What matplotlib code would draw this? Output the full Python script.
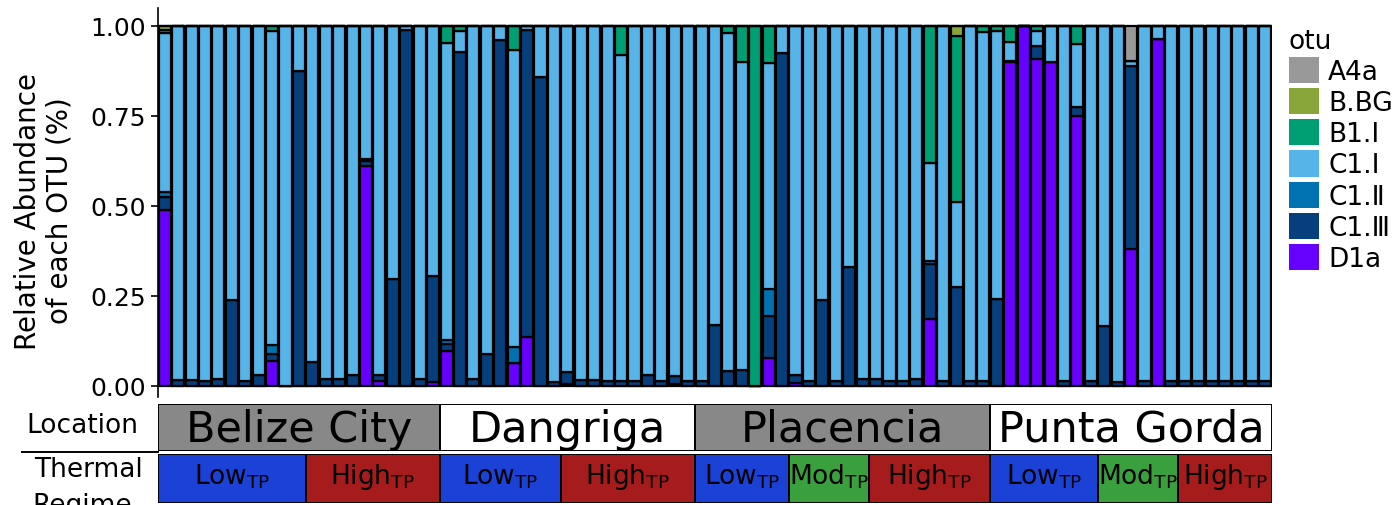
import numpy as np
import matplotlib
matplotlib.use("Agg")
import matplotlib.pyplot as plt
from matplotlib.patches import Patch
from matplotlib.lines import Line2D

plt.rcParams["font.family"] = ["DejaVu Sans"]
plt.rcParams["mathtext.default"] = "regular"

# relative abundance per sample (83 samples), one list per OTU
d1a = [0.49, 0, 0, 0, 0, 0, 0, 0, 0.07, 0, 0,
       0, 0, 0, 0, 0.61, 0.013, 0, 0, 0, 0.01,
       0.096, 0, 0, 0, 0, 0.064, 0.137, 0, 0,
       0.006, 0, 0, 0, 0, 0, 0, 0, 0.006, 0,
       0, 0, 0, 0, 0, 0.077, 0,
       0.007, 0, 0, 0, 0, 0,
       0, 0, 0, 0, 0.186, 0, 0, 0, 0,
       0, 0.9, 1.0, 0.908, 0.9, 0, 0.751, 0,
       0, 0, 0.38, 0, 0.964, 0,
       0, 0, 0, 0, 0, 0, 0]
c1_iii = [0.035, 0.018, 0.018, 0.015, 0.02, 0.24, 0.015, 0.03, 0.02, 0, 0.876,
          0.066, 0.02, 0.02, 0.03, 0.015, 0.018, 0.297, 0.99, 0.02, 0.296,
          0.021, 0.929, 0.02, 0.09, 0.96, 0, 0.852, 0.857, 0.01,
          0.034, 0.017, 0.017, 0.015, 0.015, 0.015, 0.03, 0.015, 0.023, 0.015,
          0.015, 0.17, 0.043, 0.045, 0, 0.117, 0.924,
          0.023, 0.015, 0.24, 0.015, 0.33, 0.02,
          0.02, 0.015, 0.015, 0.02, 0.153, 0.015, 0.274, 0.015, 0.015,
          0.242, 0.004, 0, 0.036, 0, 0.015, 0.023, 0.015,
          0.168, 0.01, 0.51, 0.015, 0, 0.015,
          0.015, 0.015, 0.015, 0.015, 0.015, 0.015, 0.015]
c1_ii = [0.015, 0, 0, 0, 0, 0, 0, 0, 0.025, 0, 0,
         0, 0, 0, 0, 0.005, 0, 0, 0, 0, 0,
         0.011, 0, 0, 0, 0, 0.043, 0, 0, 0,
         0, 0, 0, 0, 0, 0, 0, 0, 0, 0,
         0, 0, 0, 0, 0, 0.076, 0,
         0, 0, 0, 0, 0, 0,
         0, 0, 0, 0, 0.007, 0, 0, 0, 0,
         0, 0, 0, 0, 0, 0, 0, 0,
         0, 0, 0, 0, 0, 0,
         0, 0, 0, 0, 0, 0, 0]
c1_i = [0.44, 0.982, 0.982, 0.985, 0.98, 0.76, 0.985, 0.97, 0.87, 1.0, 0.124,
        0.934, 0.98, 0.98, 0.97, 0.37, 0.969, 0.703, 0.01, 0.98, 0.694,
        0.824, 0.056, 0.98, 0.91, 0.04, 0.826, 0.011, 0.143, 0.99,
        0.96, 0.983, 0.983, 0.985, 0.905, 0.985, 0.97, 0.985, 0.971, 0.985,
        0.985, 0.83, 0.937, 0.855, 0, 0.627, 0.076,
        0.97, 0.985, 0.76, 0.985, 0.67, 0.98,
        0.98, 0.985, 0.985, 0.98, 0.273, 0.985, 0.236, 0.985, 0.967,
        0.745, 0.051, 0, 0.041, 0.1, 0.985, 0.176, 0.985,
        0.832, 0.99, 0.014, 0.985, 0.036, 0.985,
        0.985, 0.985, 0.985, 0.985, 0.985, 0.985, 0.985]
b1_i = [0.01, 0, 0, 0, 0, 0, 0, 0, 0.015, 0, 0,
        0, 0, 0, 0, 0, 0, 0, 0, 0, 0,
        0.048, 0.015, 0, 0, 0, 0.067, 0, 0, 0,
        0, 0, 0, 0, 0.08, 0, 0, 0, 0, 0,
        0, 0, 0.02, 0.1, 1.0, 0.103, 0,
        0, 0, 0, 0, 0, 0,
        0, 0, 0, 0, 0.381, 0, 0.463, 0, 0.018,
        0.013, 0.045, 0, 0.015, 0, 0, 0.05, 0,
        0, 0, 0, 0, 0, 0,
        0, 0, 0, 0, 0, 0, 0]
b_bg = [0.01] + [0] * 58 + [0.027] + [0] * 23
a4a = [0] * 72 + [0.096] + [0] * 10

otu_names = ["A4a", "B.BG", "B1.Ⅰ", "C1.Ⅰ", "C1.Ⅱ", "C1.Ⅲ", "D1a"]
otu_colors = ["#999999", "#88A63A", "#009E73", "#56B4E9", "#0072B2", "#063F7C", "#6600FF"]

locations = ["Belize City", "Dangriga", "Placencia", "Punta Gorda"]
location_counts = [21, 19, 22, 21]
location_colors = ["#888888", "white", "#888888", "white"]

regimes = ["Low", "High", "Low", "High", "Low", "Mod", "High", "Low", "Mod", "High"]
regime_counts = [11, 10, 9, 10, 7, 6, 9, 8, 6, 7]
regime_colors = {"Low": "#1B41D6", "Mod": "#3A9F3D", "High": "#A61C1C"}

W, H = 1398, 506
fig = plt.figure(figsize=(W / 100, H / 100), dpi=100)

ax = fig.add_axes([158 / W, (H - 405) / H, 1114 / W, 396 / H])
n = len(d1a)
x = np.arange(n)
stack = [d1a, c1_iii, c1_ii, c1_i, b1_i, b_bg, a4a]
bottom = np.zeros(n)
for vals, col in zip(stack, otu_colors[::-1]):
    vals = np.array(vals)
    ax.bar(x, vals, bottom=bottom, width=0.9, color=col,
           edgecolor="black", linewidth=1.6)
    bottom += vals

ax.set_xlim(-0.5, n - 0.5)
ax.set_ylim(-0.05, 1.05)
ax.set_yticks([0, 0.25, 0.5, 0.75, 1.0])
ax.set_yticklabels(["0.00", "0.25", "0.50", "0.75", "1.00"])
ax.tick_params(axis="y", labelsize=18, length=5, width=1.2, colors="black")
ax.set_xticks([])
for s in ["top", "right", "bottom"]:
    ax.spines[s].set_visible(False)
ax.spines["left"].set_linewidth(1.2)
ax.spines["left"].set_bounds(-0.03, 1.05)

fig.text(44 / W, 1 - 211 / H, "Relative Abundance\nof each OTU (%)",
         rotation=90, ha="center", va="center", fontsize=20, linespacing=1.15)

handles = [Patch(facecolor=c, edgecolor="none") for c in otu_colors]
leg = fig.legend(handles, otu_names, loc="upper left",
                 bbox_to_anchor=(1278 / W, 1 - 18 / H), frameon=False,
                 title="otu", fontsize=19, title_fontsize=19,
                 handlelength=1.15, handleheight=1.15, labelspacing=0.12,
                 handletextpad=0.35, borderaxespad=0)
leg._legend_box.align = "left"

# location strip
ax_loc = fig.add_axes([158 / W, (H - 452) / H, 1114 / W, 47 / H])
ax_loc.set_xlim(-0.5, n - 0.5)
ax_loc.set_ylim(0, 1)
ax_loc.axis("off")
start = -0.5
for name, cnt, col in zip(locations, location_counts, location_colors):
    ax_loc.bar(start, 1, width=cnt, align="edge", color=col,
               edgecolor="black", linewidth=1.4)
    ax_loc.text(start + cnt / 2, 0.47, name, ha="center", va="center", fontsize=31)
    start += cnt

# thermal regime strip
ax_th = fig.add_axes([158 / W, (H - 504) / H, 1114 / W, 49 / H])
ax_th.set_xlim(-0.5, n - 0.5)
ax_th.set_ylim(0, 1)
ax_th.axis("off")
start = -0.5
for name, cnt in zip(regimes, regime_counts):
    ax_th.bar(start, 1, width=cnt, align="edge", color=regime_colors[name],
              edgecolor="black", linewidth=1.4)
    ax_th.text(start + cnt / 2, 0.55, name + "$_{TP}$", ha="center", va="center",
               fontsize=19)
    start += cnt

fig.text(82 / W, 1 - 426 / H, "Location", ha="center", va="center", fontsize=19)
fig.text(88 / W, 1 - 470 / H, "Thermal", ha="center", va="center", fontsize=19)
fig.text(82 / W, 1 - 506 / H, "Regime", ha="center", va="center", fontsize=19)
fig.add_artist(Line2D([22 / W, 158 / W], [1 - 453 / H, 1 - 453 / H],
                      color="black", linewidth=1.4))

fig.savefig("out.png", dpi=100)
